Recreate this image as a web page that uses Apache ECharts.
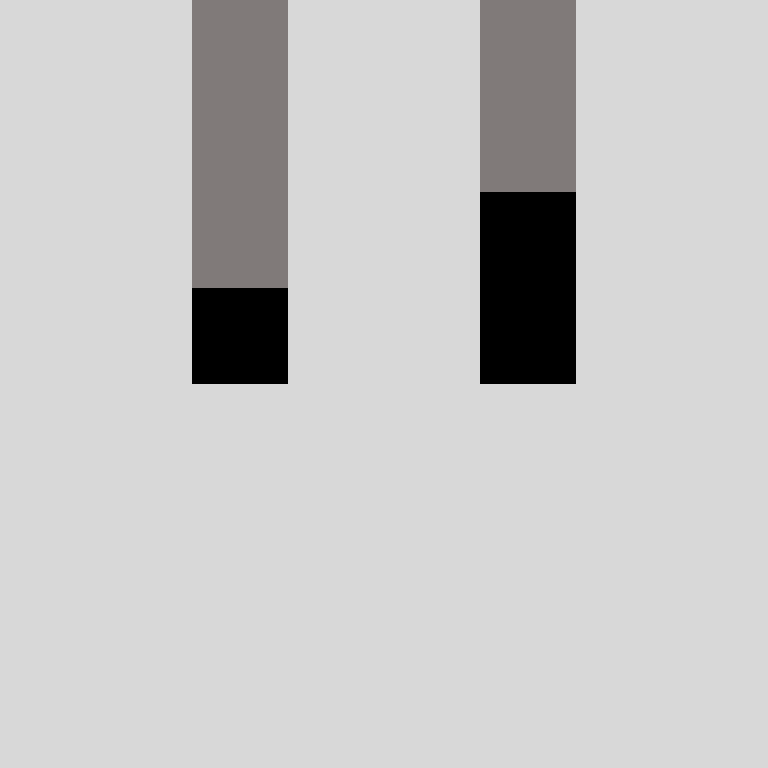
<!DOCTYPE html>
<html lang="en">
<head>
<meta charset="UTF-8">
<script src="https://cdn.jsdelivr.net/npm/echarts@6/dist/echarts.min.js"></script>
<style>
	html, body { margin: 0; padding: 0; background: #d8d8d8; }
	#chart { width: 768px; height: 768px; }
</style>
</head>
<body>
	<div id="chart"></div>
	<script type="text/javascript">
		var categories = ['A', 'B'];
		var lowerValues = [1, 2];
		var upperValues = [3, 2];

		var mychar = echarts.init(document.getElementById('chart'));
		var option = {
			backgroundColor: '#d8d8d8',
			animation: false,
			grid: { left: 96, right: 96, top: 0, bottom: 384 },
			xAxis: {
				type: 'category',
				data: categories,
				show: false
			},
			yAxis: {
				type: 'value',
				min: 0,
				max: 4,
				show: false
			},
			series: [{
				type: 'bar',
				stack: 'total',
				barWidth: 96,
				data: lowerValues,
				itemStyle: { color: '#000000' }
			}, {
				type: 'bar',
				stack: 'total',
				barWidth: 96,
				data: upperValues,
				itemStyle: { color: '#807a79' }
			}]
		};
		mychar.setOption(option);
	</script>
</body>
</html>
